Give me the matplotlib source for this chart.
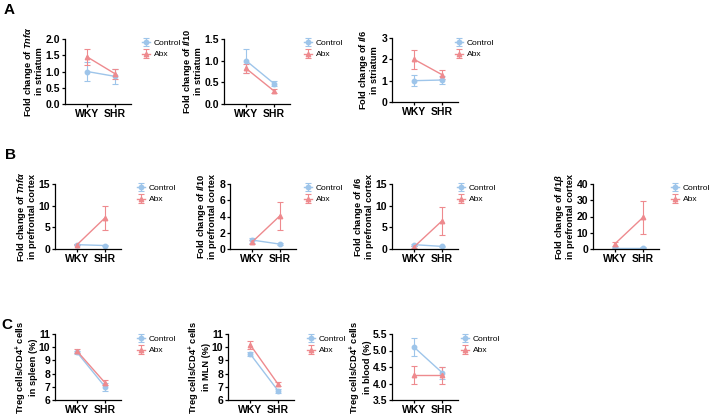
import matplotlib
matplotlib.use("Agg")
import matplotlib.pyplot as plt

plt.rcParams["font.family"] = ["Liberation Sans", "DejaVu Sans"]
plt.rcParams["mathtext.fontset"] = "custom"
plt.rcParams["mathtext.rm"] = "Liberation Sans:bold"
plt.rcParams["mathtext.it"] = "Liberation Sans:bold:italic"
plt.rcParams["mathtext.bf"] = "Liberation Sans:bold"

W, H = 709, 416
CTRL = "#9ec5ea"
ABX = "#ee8a8e"

groups = ["WKY", "SHR"]

# --- panel A: striatum ---
a_tnfa_ctrl, a_tnfa_ctrl_err = [1.0, 0.85], [0.3, 0.22]
a_tnfa_abx, a_tnfa_abx_err = [1.45, 0.93], [0.25, 0.15]
a_il10_ctrl, a_il10_ctrl_err = [1.0, 0.47], [0.28, 0.05]
a_il10_abx, a_il10_abx_err = [0.82, 0.3], [0.1, 0.04]
a_il6_ctrl, a_il6_ctrl_err = [1.0, 1.03], [0.25, 0.18]
a_il6_abx, a_il6_abx_err = [2.0, 1.28], [0.45, 0.22]

# --- panel B: prefrontal cortex ---
b_tnfa_ctrl, b_tnfa_ctrl_err = [1.0, 0.8], [0.15, 0.1]
b_tnfa_abx, b_tnfa_abx_err = [1.0, 7.2], [0.1, 2.8]
b_il10_ctrl, b_il10_ctrl_err = [1.1, 0.6], [0.3, 0.1]
b_il10_abx, b_il10_abx_err = [0.85, 4.1], [0.2, 1.7]
b_il6_ctrl, b_il6_ctrl_err = [1.0, 0.6], [0.2, 0.15]
b_il6_abx, b_il6_abx_err = [0.5, 6.5], [0.2, 3.3]
b_il1b_ctrl, b_il1b_ctrl_err = [0.8, 0.8], [0.3, 0.2]
b_il1b_abx, b_il1b_abx_err = [3.3, 19.5], [1.3, 10.0]

# --- panel C: Treg cells ---
c_spleen_ctrl, c_spleen_ctrl_err = [9.6, 7.0], [0.15, 0.3]
c_spleen_abx, c_spleen_abx_err = [9.7, 7.3], [0.15, 0.2]
c_mln_ctrl, c_mln_ctrl_err = [9.5, 6.7], [0.15, 0.15]
c_mln_abx, c_mln_abx_err = [10.2, 7.2], [0.3, 0.15]
c_blood_ctrl, c_blood_ctrl_err = [5.1, 4.33], [0.28, 0.18]
c_blood_abx, c_blood_abx_err = [4.25, 4.25], [0.27, 0.25]

fig = plt.figure(figsize=(W / 100, H / 100), dpi=100)


def panel(left, top, legx, legy, ctrl, ctrl_err, abx, abx_err, ylim, yticks, ylabel,
          ticklabels=None, labelpad=1.5):
    ax = fig.add_axes([left / W, 1 - (top[1]) / H, 66 / W, (top[1] - top[0]) / H])
    x = [0, 1]
    ax.errorbar(x, ctrl, yerr=ctrl_err, color=CTRL, marker="o", ms=3.2, lw=1,
                capsize=2, elinewidth=0.8, capthick=0.8, label="Control")
    ax.errorbar(x, abx, yerr=abx_err, color=ABX, marker="^", ms=3.2, lw=1,
                capsize=2, elinewidth=0.8, capthick=0.8, label="Abx")
    ax.set_xlim(-0.79, 1.57)
    ax.set_ylim(*ylim)
    ax.set_yticks(yticks)
    if ticklabels is not None:
        ax.set_yticklabels(ticklabels)
    ax.set_xticks(x)
    ax.set_xticklabels(groups)
    for s in ["top", "right"]:
        ax.spines[s].set_visible(False)
    for s in ["left", "bottom"]:
        ax.spines[s].set_linewidth(0.9)
    ax.tick_params(length=2.5, width=0.9, pad=1, labelsize=7.5)
    for t in ax.get_xticklabels() + ax.get_yticklabels():
        t.set_fontweight("bold")
    ax.set_ylabel(ylabel, fontsize=6.7, fontweight="bold", labelpad=labelpad, linespacing=1.0)
    ax.legend(loc="upper left", bbox_to_anchor=(legx / W, 1 - legy / H),
              bbox_transform=fig.transFigure, frameon=False, fontsize=6,
              handlelength=0.9, handletextpad=0.5, borderpad=0, borderaxespad=0,
              labelspacing=0.45)
    return ax


A = (39, 104)
panel(65, A, 142, 39, a_tnfa_ctrl, a_tnfa_ctrl_err, a_tnfa_abx, a_tnfa_abx_err,
      (0, 2.0), [0, 0.5, 1.0, 1.5, 2.0], "Fold change of $\\mathit{Tnf\\alpha}$\nin striatum",
      ["0.0", "0.5", "1.0", "1.5", "2.0"])
panel(224, A, 304, 39, a_il10_ctrl, a_il10_ctrl_err, a_il10_abx, a_il10_abx_err,
      (0, 1.5), [0, 0.5, 1.0, 1.5], "Fold change of $\\mathit{Il10}$\nin striatum",
      ["0.0", "0.5", "1.0", "1.5"])
panel(392, (38, 102), 455, 39, a_il6_ctrl, a_il6_ctrl_err, a_il6_abx, a_il6_abx_err,
      (0, 3), [0, 1, 2, 3], "Fold change of $\\mathit{Il6}$\nin striatum")

B = (184, 249)
panel(55, B, 137, 184, b_tnfa_ctrl, b_tnfa_ctrl_err, b_tnfa_abx, b_tnfa_abx_err,
      (0, 15), [0, 5, 10, 15], "Fold change of $\\mathit{Tnf\\alpha}$\nin prefrontal cortex")
panel(230, B, 304, 184, b_il10_ctrl, b_il10_ctrl_err, b_il10_abx, b_il10_abx_err,
      (0, 8), [0, 2, 4, 6, 8], "Fold change of $\\mathit{Il10}$\nin prefrontal cortex")
panel(392, B, 457, 184, b_il6_ctrl, b_il6_ctrl_err, b_il6_abx, b_il6_abx_err,
      (0, 15), [0, 5, 10, 15], "Fold change of $\\mathit{Il6}$\nin prefrontal cortex")
panel(593, B, 671, 184, b_il1b_ctrl, b_il1b_ctrl_err, b_il1b_abx, b_il1b_abx_err,
      (0, 40), [0, 10, 20, 30, 40], "Fold change of $\\mathit{Il1\\beta}$\nin prefrontal cortex")

C = (334, 400)
panel(55, C, 137, 335, c_spleen_ctrl, c_spleen_ctrl_err, c_spleen_abx, c_spleen_abx_err,
      (6, 11), [6, 7, 8, 9, 10, 11], "Treg cells/CD4$^{+}$ cells\nin spleen (%)", labelpad=0.5)
panel(228, C, 307, 335, c_mln_ctrl, c_mln_ctrl_err, c_mln_abx, c_mln_abx_err,
      (6, 11), [6, 7, 8, 9, 10, 11], "Treg cells/CD4$^{+}$ cells\nin MLN (%)", labelpad=0.5)
panel(392, C, 461, 335, c_blood_ctrl, c_blood_ctrl_err, c_blood_abx, c_blood_abx_err,
      (3.5, 5.5), [3.5, 4.0, 4.5, 5.0, 5.5], "Treg cells/CD4$^{+}$ cells\nin blood (%)",
      ["3.5", "4.0", "4.5", "5.0", "5.5"], labelpad=0.5)

for letter, (px, py) in {"A": (4, 14), "B": (5, 159), "C": (1, 329)}.items():
    fig.text(px / W, 1 - py / H, letter, fontsize=11, fontweight="bold")

fig.savefig("out.png", dpi=100)
